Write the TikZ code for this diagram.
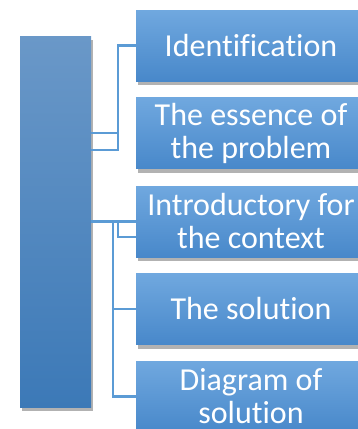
\documentclass[tikz,border=0pt]{standalone}
\usepackage{fontspec}
\setmainfont{Carlito}[Ligatures=CommonOff]
\usepackage{tikz}
\usetikzlibrary{positioning, shadows}

\definecolor{boxtop}{RGB}{112,168,223}
\definecolor{boxbottom}{RGB}{72,136,202}
\definecolor{bartop}{RGB}{106,152,200}
\definecolor{barbottom}{RGB}{60,121,183}
\definecolor{linkblue}{RGB}{91,155,213}

\tikzset{
    itembox/.style={rectangle, minimum width=230pt, minimum height=71pt,
        top color=boxtop, bottom color=boxbottom, text=white, align=center,
        inner sep=0pt, font=\fontsize{32}{33}\selectfont,
        drop shadow={shadow xshift=1.5pt, shadow yshift=-4pt, fill=black, opacity=0.3}},
    mainbar/.style={rectangle, minimum width=71pt, minimum height=371pt,
        top color=bartop, bottom color=barbottom, inner sep=0pt,
        drop shadow={shadow xshift=1.5pt, shadow yshift=-4pt, fill=black, opacity=0.3}},
    link/.style={draw=linkblue, line width=2.2pt}
}

\begin{document}
\begin{tikzpicture}[x=1pt, y=-1pt]
    \useasboundingbox (0,0) rectangle (357,429);

    \node[mainbar] (bar) at (55.5,221.5) {};

    \node[itembox] (ident) at (251,45.5) {Identification};
    \node[itembox] (essence) at (251,133) {The essence of\\the problem};
    \node[itembox] (intro) at (251,221.5) {Introductory for\\the context};
    \node[itembox] (solution) at (251,309) {The solution};
    \node[itembox] (diagram) at (251,396.5) {Diagram of\\solution};

    % joints of the connectors
    \coordinate (j1) at (118,133);
    \coordinate (j2) at (118,150);
    \coordinate (j3) at (118,237);
    \coordinate (j4) at (113,221.5);

    % top group
    \draw[link] (bar.east |- j1) -- (j1);
    \draw[link] (bar.east |- j2) -- (j2) |- (ident.west);

    % middle group
    \draw[link] (bar.east) -- (intro.west);
    \draw[link] (j3 |- intro.west) -- (j3) -- (intro.west |- j3);

    % bottom group
    \draw[link] (j4) |- (diagram.west);
    \draw[link] (j4 |- solution.west) -- (solution.west);
\end{tikzpicture}
\end{document}
